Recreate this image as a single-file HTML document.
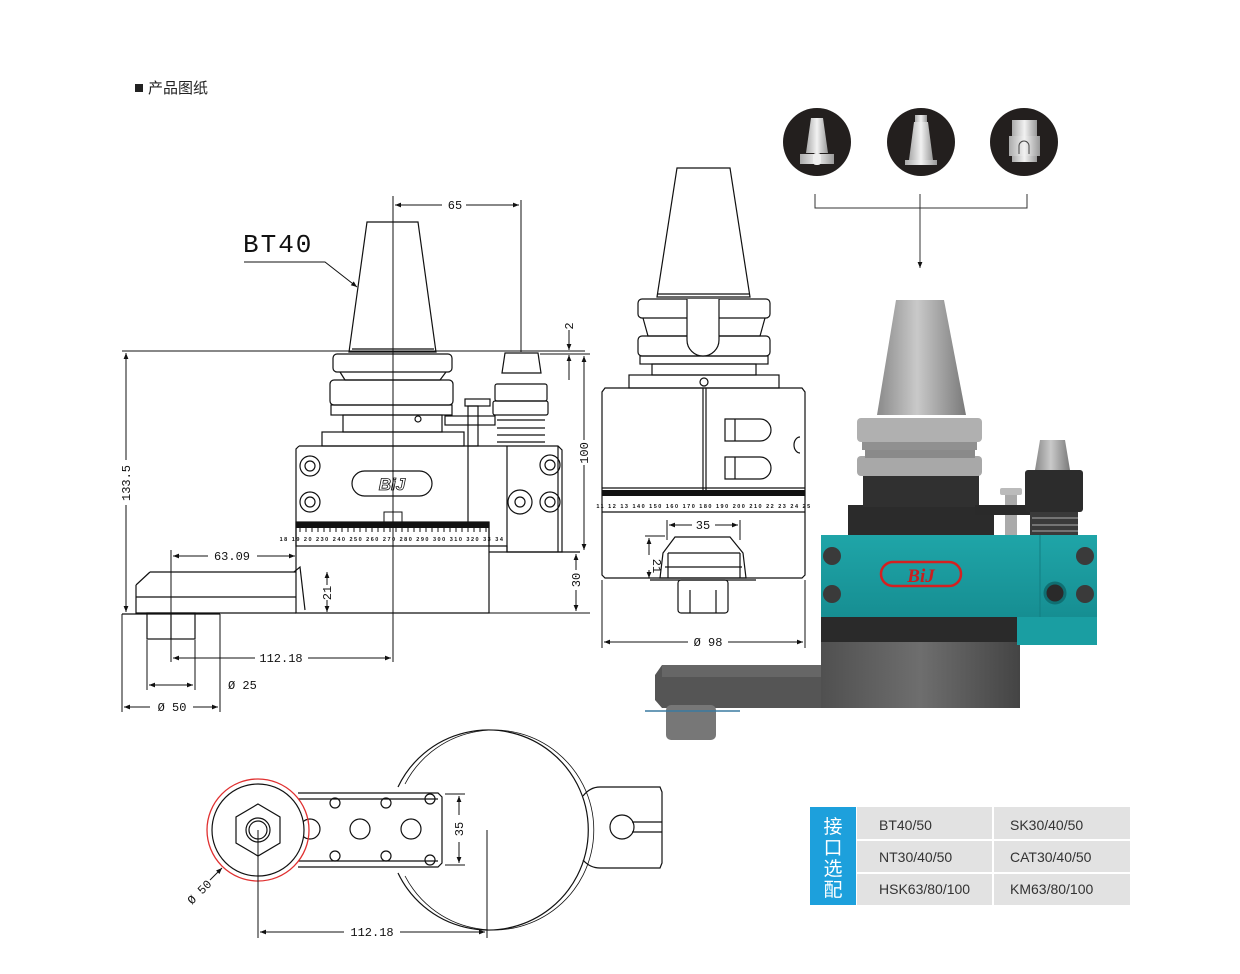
<!DOCTYPE html>
<html><head><meta charset="utf-8"><style>
html,body{margin:0;padding:0;background:#fff;}
svg{display:block;}
.t{font-family:"Liberation Sans","Noto Sans CJK SC",sans-serif;}
.d{font-family:"Liberation Mono",monospace;font-size:12px;fill:#111;}
</style></head><body>
<svg width="1240" height="974" viewBox="0 0 1240 974" xmlns="http://www.w3.org/2000/svg">
<defs>
<marker id="a" viewBox="0 0 10 10" refX="10" refY="5" markerWidth="8" markerHeight="6" orient="auto-start-reverse"><path d="M0,1 L10,5 L0,9z" fill="#111"/></marker>
<linearGradient id="cone" x1="0" x2="1"><stop offset="0" stop-color="#8a8a8a"/><stop offset=".45" stop-color="#c9c9c9"/><stop offset="1" stop-color="#7a7a7a"/></linearGradient>
<linearGradient id="teal" x1="0" x2="0" y1="0" y2="1"><stop offset="0" stop-color="#1fa5a8"/><stop offset="1" stop-color="#168e92"/></linearGradient>
<linearGradient id="gcyl" x1="0" x2="1"><stop offset="0" stop-color="#505050"/><stop offset=".5" stop-color="#6e6e6e"/><stop offset="1" stop-color="#444"/></linearGradient>
<linearGradient id="ic" x1="0" x2="1"><stop offset="0" stop-color="#aaa"/><stop offset=".5" stop-color="#f2f2f2"/><stop offset="1" stop-color="#999"/></linearGradient>
</defs>

<rect x="135" y="84" width="8" height="8" fill="#222"/>
<text x="148" y="93" class="t" font-size="15" fill="#222">产品图纸</text>

<!-- ===== LEFT DRAWING ===== -->
<g fill="none" stroke="#111" stroke-width="1.2">
<path d="M367,222 L418,222 L436,352 L349,352 Z" fill="#fff"/>
<line x1="352" y1="349" x2="434" y2="349"/>
<rect x="333" y="354" width="119" height="18" rx="4"/>
<path d="M340,372 L345,380 L440,380 L446,372"/>
<rect x="330" y="380" width="123" height="25" rx="4"/>
<rect x="331" y="405" width="121" height="10"/>
<rect x="343" y="415" width="99" height="17"/>
<circle cx="418" cy="419" r="3"/>
<rect x="322" y="432" width="142" height="14"/>
<path d="M505,353 L538,353 L541,373 L502,373 Z"/>
<rect x="495" y="384" width="52" height="17" rx="2"/>
<rect x="493" y="401" width="55" height="14" rx="2"/>
<path d="M497,420 L545,420 M497,428 L545,428 M497,435 L545,435 M497,442 L545,442"/>
<rect x="465" y="399" width="25" height="7"/>
<rect x="468" y="406" width="10" height="40"/>
<rect x="445" y="416" width="50" height="9"/>
<path d="M299,446 L558,446 L562,450 L562,552 L507,552 L507,546 L489,546"/>
<path d="M299,446 L296,449 L296,613 L489,613 L489,522"/>
<line x1="468" y1="446" x2="468" y2="522"/>
<line x1="507" y1="446" x2="507" y2="552"/>
<line x1="558" y1="446" x2="558" y2="552"/>
<rect x="296" y="522" width="193" height="24"/>
<line x1="489" y1="552" x2="580" y2="552"/>
<circle cx="310" cy="466" r="10"/><circle cx="310" cy="466" r="5"/>
<circle cx="310" cy="502" r="10"/><circle cx="310" cy="502" r="5"/>
<circle cx="550" cy="465" r="10"/><circle cx="550" cy="465" r="5"/>
<circle cx="550" cy="502" r="10"/><circle cx="550" cy="502" r="5"/>
<circle cx="520" cy="502" r="12"/><circle cx="520" cy="502" r="5"/>
<rect x="352" y="471" width="80" height="25" rx="12.5"/>
<path d="M150,572 L296,572 M136,585 L150,572 M136,585 L136,613 L296,613 M136,597 L296,597"/>
<path d="M294,572 L300,567 L305,610"/>
<rect x="147" y="613" width="48" height="26"/>
<line x1="171" y1="613" x2="171" y2="639"/>
<line x1="122" y1="614" x2="220" y2="614"/>
</g>
<text x="392" y="490" class="t" font-size="17" font-style="italic" font-weight="bold" text-anchor="middle" fill="none" stroke="#111" stroke-width=".8">BiJ</text>
<rect x="296" y="522" width="193" height="6" fill="#111"/>
<g stroke="#111" stroke-width="1"><path d="M300,528v4M306,528v4M312,528v4M318,528v4M324,528v4M330,528v4M336,528v4M342,528v4M348,528v4M354,528v4M360,528v4M366,528v4M372,528v4M378,528v4M384,528v4M390,528v4M396,528v4M402,528v4M408,528v4M414,528v4M420,528v4M426,528v4M432,528v4M438,528v4M444,528v4M450,528v4M456,528v4M462,528v4M468,528v4M474,528v4M480,528v4M486,528v4"/>
<path d="M384,512h18v10h-18z" fill="none"/></g>
<text x="392" y="541" font-family="Liberation Sans" font-size="5.5" font-weight="bold" text-anchor="middle" letter-spacing="1.5" fill="#111">18 19 20 230 240 250 260 270 280 290 300 310 320 33 34</text>
<text x="243" y="252" font-family="Liberation Mono" font-size="26" fill="#111" letter-spacing="2">BT40</text>
<path d="M244,262 L325,262 L357,287" fill="none" stroke="#111" marker-end="url(#a)"/>
<g stroke="#111" stroke-width="1" fill="none">
<line x1="393" y1="196" x2="393" y2="662"/>
<line x1="521" y1="200" x2="521" y2="352"/>
<line x1="395" y1="205" x2="442" y2="205" marker-start="url(#a)"/>
<line x1="466" y1="205" x2="519" y2="205" marker-end="url(#a)"/>
<line x1="122" y1="351" x2="585" y2="351"/>
<line x1="540" y1="354" x2="590" y2="354"/>
<line x1="126" y1="353" x2="126" y2="460" marker-start="url(#a)"/>
<line x1="126" y1="505" x2="126" y2="612" marker-end="url(#a)"/>
<line x1="569" y1="330" x2="569" y2="350" marker-end="url(#a)"/>
<line x1="569" y1="355" x2="569" y2="380" marker-start="url(#a)"/>
<line x1="584" y1="356" x2="584" y2="440" marker-start="url(#a)"/>
<line x1="584" y1="465" x2="584" y2="550" marker-end="url(#a)"/>
<line x1="576" y1="554" x2="576" y2="570" marker-start="url(#a)"/>
<line x1="576" y1="590" x2="576" y2="611" marker-end="url(#a)"/>
<line x1="296" y1="613" x2="590" y2="613"/>
<line x1="327" y1="572" x2="327" y2="585" marker-start="url(#a)"/>
<line x1="327" y1="600" x2="327" y2="612" marker-end="url(#a)"/>
<line x1="171" y1="550" x2="171" y2="662"/>
<line x1="173" y1="556" x2="208" y2="556" marker-start="url(#a)"/>
<line x1="257" y1="556" x2="295" y2="556" marker-end="url(#a)"/>
<line x1="173" y1="658" x2="255" y2="658" marker-start="url(#a)"/>
<line x1="308" y1="658" x2="391" y2="658" marker-end="url(#a)"/>
<line x1="147" y1="640" x2="147" y2="690"/>
<line x1="195" y1="640" x2="195" y2="690"/>
<line x1="220" y1="614" x2="220" y2="712"/>
<line x1="122" y1="614" x2="122" y2="712"/>
<line x1="149" y1="685" x2="193" y2="685" marker-start="url(#a)" marker-end="url(#a)"/>
<line x1="124" y1="707" x2="150" y2="707" marker-start="url(#a)"/>
<line x1="193" y1="707" x2="218" y2="707" marker-end="url(#a)"/>
</g>
<g class="d">
<text x="455" y="209" text-anchor="middle">65</text>
<text x="232" y="560" text-anchor="middle">63.09</text>
<text x="281" y="662" text-anchor="middle">112.18</text>
<text x="228" y="689">Ø 25</text>
<text x="172" y="711" text-anchor="middle">Ø 50</text>
<text transform="translate(130,483) rotate(-90)" text-anchor="middle">133.5</text>
<text transform="translate(588,453) rotate(-90)" text-anchor="middle">100</text>
<text transform="translate(580,580) rotate(-90)" text-anchor="middle">30</text>
<text transform="translate(331,593) rotate(-90)" text-anchor="middle">21</text>
<text transform="translate(573,326) rotate(-90)" text-anchor="middle">2</text>
</g>

<!-- ===== MIDDLE DRAWING ===== -->
<g fill="none" stroke="#111" stroke-width="1.2">
<path d="M677,168 L730,168 L750,297 L657,297 Z" fill="#fff"/>
<line x1="658" y1="294" x2="749" y2="294"/>
<rect x="638" y="299" width="132" height="19" rx="4"/>
<path d="M643,318 L648,336 L760,336 L765,318"/>
<rect x="638" y="336" width="132" height="20" rx="4"/>
<rect x="640" y="356" width="128" height="8"/>
<rect x="652" y="364" width="104" height="11"/>
<circle cx="704" cy="382" r="4"/>
<rect x="629" y="375" width="150" height="13"/>
<path d="M687,299 L687,340 A16,16 0 0 0 719,340 L719,299" fill="#fff"/>
<path d="M605,388 L802,388 L805,392 L805,575 L802,578 L605,578 L602,575 L602,392 Z"/>
<line x1="703" y1="388" x2="703" y2="490"/>
<line x1="706" y1="388" x2="706" y2="490"/>
<line x1="602" y1="488" x2="805" y2="488"/>
<line x1="602" y1="512" x2="805" y2="512"/>
<path d="M725,419 L760,419 A11,11 0 0 1 760,441 L725,441 Z M735,419 V441"/>
<path d="M725,457 L760,457 A11,11 0 0 1 760,479 L725,479 Z M735,457 V479"/>
<path d="M800,437 A6,8 0 0 0 800,453"/>
<path d="M663,553 L675,537 L730,537 L743,553 L746,578 L660,578 Z"/>
<line x1="668" y1="553" x2="740" y2="553"/>
<line x1="668" y1="553" x2="668" y2="578"/><line x1="740" y1="553" x2="740" y2="578"/>
<line x1="665" y1="567" x2="742" y2="567"/>
<line x1="650" y1="580" x2="756" y2="580"/>
<rect x="678" y="580" width="50" height="33" rx="3"/>
<line x1="690" y1="590" x2="690" y2="613"/><line x1="716" y1="590" x2="716" y2="613"/>
</g>
<rect x="602" y="490" width="203" height="6" fill="#111"/>
<text x="704" y="508" font-family="Liberation Sans" font-size="5.5" font-weight="bold" text-anchor="middle" letter-spacing="1.5" fill="#111">11 12 13 140 150 160 170 180 190 200 210 22 23 24 25</text>
<g stroke="#111" stroke-width="1" fill="none">
<line x1="602" y1="580" x2="602" y2="648"/><line x1="805" y1="580" x2="805" y2="648"/>
<line x1="604" y1="642" x2="688" y2="642" marker-start="url(#a)"/>
<line x1="728" y1="642" x2="803" y2="642" marker-end="url(#a)"/>
<line x1="667" y1="520" x2="667" y2="540"/><line x1="740" y1="520" x2="740" y2="540"/>
<line x1="669" y1="525" x2="692" y2="525" marker-start="url(#a)"/>
<line x1="715" y1="525" x2="738" y2="525" marker-end="url(#a)"/>
<line x1="645" y1="536" x2="665" y2="536"/>
<line x1="649" y1="538" x2="649" y2="555" marker-start="url(#a)"/>
<line x1="649" y1="570" x2="649" y2="578" marker-end="url(#a)"/>
</g>
<g class="d">
<text x="703" y="529" text-anchor="middle">35</text>
<text x="708" y="646" text-anchor="middle">Ø 98</text>
<text transform="translate(653,566) rotate(90)" text-anchor="middle">21</text>
</g>

<!-- ===== ICONS ===== -->
<circle cx="817" cy="142" r="34" fill="#231f1e"/>
<circle cx="921" cy="142" r="34" fill="#231f1e"/>
<circle cx="1024" cy="142" r="34" fill="#231f1e"/>
<path d="M811,118 L823,118 L828,153 L806,153 Z" fill="url(#ic)"/>
<rect x="800" y="154" width="34" height="10" fill="url(#ic)"/>
<rect x="813" y="153" width="8" height="12" rx="3" fill="#eee"/>
<rect x="915" y="115" width="12" height="7" fill="url(#ic)"/>
<path d="M914,122 L928,122 L933,160 L909,160 Z" fill="url(#ic)"/>
<rect x="905" y="160" width="32" height="5" fill="url(#ic)"/>
<rect x="1012" y="120" width="25" height="16" fill="url(#ic)"/>
<rect x="1009" y="136" width="31" height="20" fill="url(#ic)"/>
<rect x="1012" y="156" width="25" height="6" fill="url(#ic)"/>
<path d="M1019,154 V146 A5,5 0 0 1 1029,146 V154" fill="none" stroke="#444"/>
<g stroke="#333" stroke-width="1" fill="none">
<path d="M815,194 V208 H1027 V194 M920,194 V208"/>
<line x1="920" y1="208" x2="920" y2="268" marker-end="url(#a)"/>
</g>

<!-- ===== 3D RENDER ===== -->
<path d="M662,665 L830,665 L830,708 L662,708 L655,700 L655,675 Z" fill="#555"/>
<rect x="662" y="665" width="168" height="12" fill="#666"/>
<rect x="666" y="705" width="50" height="35" rx="5" fill="#777"/>
<line x1="645" y1="711" x2="740" y2="711" stroke="#3a7aa0" stroke-width="1.5"/>
<rect x="821" y="640" width="199" height="68" fill="url(#gcyl)"/>
<rect x="821" y="615" width="199" height="27" fill="#2a2a2a"/>
<rect x="1017" y="615" width="80" height="30" fill="#1a9ea2"/>
<rect x="821" y="535" width="276" height="82" fill="url(#teal)"/>
<line x1="1040" y1="535" x2="1040" y2="617" stroke="#127e82"/>
<circle cx="832" cy="556" r="9" fill="#3a3a3a"/>
<circle cx="832" cy="594" r="9" fill="#3a3a3a"/>
<circle cx="1085" cy="556" r="9" fill="#3a3a3a"/>
<circle cx="1085" cy="594" r="9" fill="#3a3a3a"/>
<circle cx="1055" cy="593" r="10" fill="#2a2a2a" stroke="#0f6f72" stroke-width="3"/>
<rect x="881" y="562" width="80" height="24" rx="12" fill="none" stroke="#d42020" stroke-width="2.5"/>
<text x="921" y="582" font-size="19" font-style="italic" font-weight="bold" fill="#c81e1e" text-anchor="middle" font-family="Liberation Serif">BiJ</text>
<rect x="848" y="505" width="146" height="30" fill="#2b2b2b"/>
<rect x="863" y="475" width="116" height="32" fill="#303030"/>
<rect x="857" y="456" width="125" height="20" rx="4" fill="#a8a8a8"/>
<rect x="865" y="448" width="110" height="10" fill="#8a8a8a"/>
<rect x="857" y="418" width="125" height="24" rx="4" fill="#b0b0b0"/>
<rect x="862" y="442" width="115" height="8" fill="#909090"/>
<path d="M896,300 L944,300 L966,415 L877,415 Z" fill="url(#cone)"/>
<rect x="1000" y="488" width="22" height="7" rx="2" fill="#bbb"/>
<rect x="1005" y="495" width="12" height="40" fill="#aaa"/>
<rect x="975" y="505" width="60" height="10" fill="#2a2a2a"/>
<path d="M1040,440 L1065,440 L1070,470 L1035,470 Z" fill="url(#cone)"/>
<rect x="1025" y="470" width="58" height="42" rx="3" fill="#2c2c2c"/>
<rect x="1030" y="512" width="48" height="23" fill="#3a3a3a"/>
<path d="M1032,518 H1078 M1032,525 H1078 M1032,531 H1078" stroke="#888" stroke-width="1.5"/>

<!-- ===== BOTTOM VIEW ===== -->
<g fill="none" stroke="#111" stroke-width="1.2">
<path d="M398,787 A100,100 0 1 1 398,873"/>
<path d="M405,784 A100,100 0 1 1 405,876" stroke-width=".8"/>
<path d="M583,796 Q590,787 600,787 L660,787 L662,792 L662,863 L660,868 L600,868 Q590,868 583,860"/>
<circle cx="622" cy="827" r="12"/>
<path d="M632,822 H662 M632,832 H662"/>
<path d="M298,793 L438,793 L442,797 L442,863 L438,867 L298,867"/>
<path d="M298,799 L438,799 M298,861 L438,861"/>
<circle cx="335" cy="803" r="5"/><circle cx="386" cy="803" r="5"/><circle cx="430" cy="799" r="5"/>
<circle cx="335" cy="856" r="5"/><circle cx="386" cy="856" r="5"/><circle cx="430" cy="860" r="5"/>
<circle cx="360" cy="829" r="10"/><circle cx="411" cy="829" r="10"/><circle cx="310" cy="829" r="10"/>
<circle cx="258" cy="830" r="46" fill="#fff"/>
<path d="M258,804 L280,817 L280,843 L258,856 L236,843 L236,817 Z"/>
<circle cx="258" cy="830" r="12"/><circle cx="258" cy="830" r="9"/>
</g>
<circle cx="258" cy="830" r="51" fill="none" stroke="#e03030" stroke-width="1.3"/>
<g stroke="#111" stroke-width="1" fill="none">
<line x1="258" y1="830" x2="258" y2="938"/>
<line x1="487" y1="830" x2="487" y2="938"/>
<line x1="260" y1="932" x2="344" y2="932" marker-start="url(#a)"/>
<line x1="400" y1="932" x2="485" y2="932" marker-end="url(#a)"/>
<line x1="445" y1="794" x2="465" y2="794"/><line x1="445" y1="865" x2="465" y2="865"/>
<line x1="459" y1="796" x2="459" y2="815" marker-start="url(#a)"/>
<line x1="459" y1="842" x2="459" y2="863" marker-end="url(#a)"/>
<line x1="210" y1="880" x2="222" y2="868" marker-end="url(#a)"/>
</g>
<g class="d">
<text x="372" y="936" text-anchor="middle">112.18</text>
<text transform="translate(463,829) rotate(-90)" text-anchor="middle">35</text>
<text transform="translate(192,905) rotate(-45)">Ø 50</text>
</g>

<!-- ===== TABLE ===== -->
<rect x="810" y="807" width="320" height="98" fill="#fff"/>
<rect x="810" y="807" width="46" height="98" fill="#1da0dc"/>
<g class="t" font-size="19" fill="#fff" text-anchor="middle">
<text x="833" y="833">接</text>
<text x="833" y="854">口</text>
<text x="833" y="875">选</text>
<text x="833" y="896">配</text>
</g>
<g fill="#e2e2e2">
<rect x="857" y="807" width="135" height="32"/><rect x="994" y="807" width="136" height="32"/>
<rect x="857" y="841" width="135" height="31"/><rect x="994" y="841" width="136" height="31"/>
<rect x="857" y="874" width="135" height="31"/><rect x="994" y="874" width="136" height="31"/>
</g>
<g class="t" font-size="14" fill="#333">
<text x="879" y="830">BT40/50</text><text x="1010" y="830">SK30/40/50</text>
<text x="879" y="862">NT30/40/50</text><text x="1010" y="862">CAT30/40/50</text>
<text x="879" y="894">HSK63/80/100</text><text x="1010" y="894">KM63/80/100</text>
</g>
</svg>
</body></html>
